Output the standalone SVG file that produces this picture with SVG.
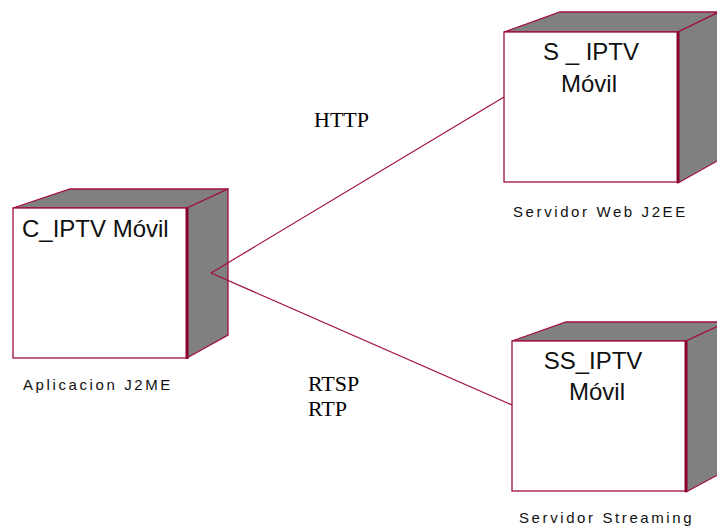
<svg xmlns="http://www.w3.org/2000/svg" width="717" height="527" viewBox="0 0 717 527">
<style>
.front{fill:#ffffff;stroke:#a0103c;stroke-width:1.3}
.side{fill:#808080;stroke:#a0103c;stroke-width:1.3;stroke-linejoin:miter}
.edge{stroke:#8a0030;stroke-width:3}
.title{font-family:"Liberation Sans",Arial,sans-serif;font-size:24px;fill:#111}
.lbl{font-family:"Liberation Sans",Arial,sans-serif;font-size:15px;letter-spacing:2.6px;fill:#111}
.proto{font-family:"Liberation Serif","Times New Roman",serif;font-size:22px;fill:#000}
.conn{fill:none;stroke:#a0103c;stroke-width:1.2}
</style>
<rect width="717" height="527" fill="#ffffff"/>
<g id="node-c">
<polygon class="side" points="13,208 70,189 228,189 187,208"/>
<polygon class="side" points="187,208 228,189 228,335 187,358"/>
<rect class="front" x="13" y="208" width="174" height="150"/>
<line class="edge" x1="187" y1="208" x2="187" y2="359"/>
<text class="title" x="22" y="237">C_IPTV Móvil</text>
<text class="lbl" x="23" y="390">Aplicacion J2ME</text>
</g>
<g id="node-s">
<polygon class="side" points="504,32 560,12 719,12 678,32"/>
<polygon class="side" points="678,32 719,12 719,160 678,183"/>
<rect class="front" x="504" y="32" width="174" height="150"/>
<line class="edge" x1="678" y1="32" x2="678" y2="183"/>
<text class="title" x="591" y="60" text-anchor="middle">S _ IPTV</text>
<text class="title" x="589" y="92" text-anchor="middle">Móvil</text>
<text class="lbl" x="513" y="217">Servidor Web J2EE</text>
</g>
<g id="node-ss">
<polygon class="side" points="512,341 566,322 727,322 686,341"/>
<polygon class="side" points="686,341 727,322 727,470 686,492"/>
<rect class="front" x="512" y="341" width="174" height="150"/>
<line class="edge" x1="686" y1="341" x2="686" y2="492"/>
<text class="title" x="593" y="369" text-anchor="middle">SS_IPTV</text>
<text class="title" x="597" y="400" text-anchor="middle">Móvil</text>
<text class="lbl" x="519" y="523">Servidor Streaming</text>
</g>
<g id="connectors">
<line class="conn" x1="211" y1="273" x2="504" y2="97"/>
<line class="conn" x1="211" y1="273" x2="512" y2="405"/>
<text class="proto" x="314" y="127">HTTP</text>
<text class="proto" x="308" y="391">RTSP</text>
<text class="proto" x="308" y="416">RTP</text>
</g>
</svg>
